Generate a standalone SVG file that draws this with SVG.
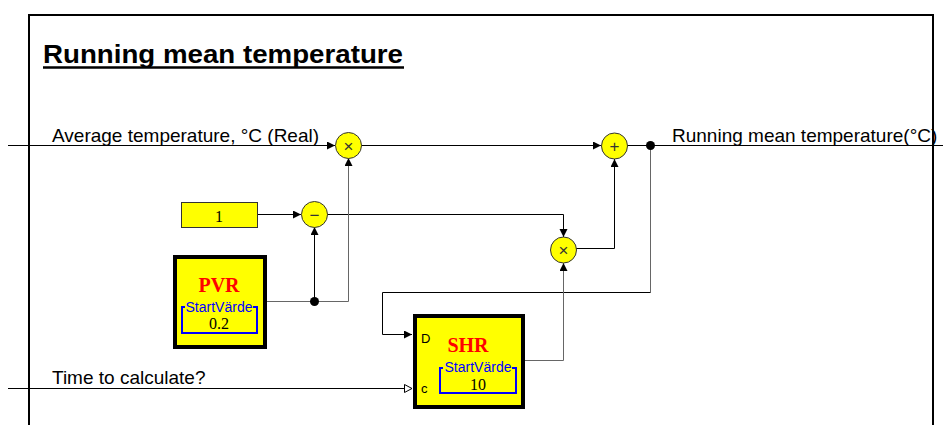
<svg xmlns="http://www.w3.org/2000/svg" width="943" height="425" viewBox="0 0 943 425">
<defs>
<marker id="af" markerUnits="userSpaceOnUse" markerWidth="9" markerHeight="9" refX="8" refY="4" orient="auto"><path d="M0,0 L8,4 L0,8 Z" fill="#000"/></marker>
<marker id="ao" markerUnits="userSpaceOnUse" markerWidth="10" markerHeight="10" refX="8" refY="4.5" orient="auto"><path d="M0.5,0.5 L8,4.5 L0.5,8.5 Z" fill="#fff" stroke="#000" stroke-width="1"/></marker>
</defs>
<style>
.frame{fill:none;stroke:#000;stroke-width:2}
.w{fill:none;stroke:#000;stroke-width:1}
.g{fill:none;stroke:#666;stroke-width:1}
.op{fill:#ff0;stroke:#333;stroke-width:1}
.sym{font-family:"Liberation Sans",Arial,sans-serif;font-size:17px;fill:#333;text-anchor:middle}
.lbl{font-family:"Liberation Sans",Arial,sans-serif;font-size:19px;fill:#000}
.blk{fill:#ff0;stroke:#000;stroke-width:4}
.name{font-family:"Liberation Serif","Times New Roman",serif;font-weight:bold;font-size:20px;fill:#f00;text-anchor:middle}
.sv{font-family:"Liberation Sans",Arial,sans-serif;font-size:14px;fill:#00f;text-anchor:middle}
.val{font-family:"Liberation Serif","Times New Roman",serif;font-size:16px;fill:#000;text-anchor:middle}
.br{fill:none;stroke:#00f;stroke-width:2}
.port{font-family:"Liberation Sans",Arial,sans-serif;font-size:13px;fill:#000}
.dot{fill:#000}
</style>
<rect width="943" height="425" fill="#fff"/>
<path class="frame" d="M29,425 V15 H933 V425"/>
<g id="title">
<text x="43" y="63" font-family="'Liberation Sans',Arial,sans-serif" font-weight="bold" font-size="26" textLength="360" lengthAdjust="spacingAndGlyphs">Running mean temperature</text>
<line x1="43" y1="67.5" x2="404" y2="67.5" stroke="#000" stroke-width="2.5"/>
</g>
<g id="connectors">
<path class="w" d="M8,145.5 H335" marker-end="url(#af)"/>
<path class="w" d="M361,145.5 H601" marker-end="url(#af)"/>
<path class="w" d="M627,145.5 H943"/>
<path class="w" d="M258,214.5 H301" marker-end="url(#af)"/>
<path class="w" d="M327,214.5 H563.5 V237" marker-end="url(#af)"/>
<path class="g" d="M267,301.5 H348.5 V158" marker-end="url(#af)"/>
<path class="w" d="M314.5,301.5 V227" marker-end="url(#af)"/>
<path class="w" d="M576,248.5 H614.5 V159" marker-end="url(#af)"/>
<path class="g" d="M650.5,145.5 V292.5"/>
<path class="w" d="M650.5,292.5 H382.5 V334.5 H412" marker-end="url(#af)"/>
<path class="g" d="M525,360.5 H563.5 V263" marker-end="url(#af)"/>
<path class="w" d="M8,388.5 H412" marker-end="url(#ao)"/>
<circle class="dot" cx="650.5" cy="145.5" r="4.5"/>
<circle class="dot" cx="314.5" cy="301.5" r="4.5"/>
</g>
<g id="lbl-in1"><text class="lbl" x="52" y="142">Average temperature, °C (Real)</text></g>
<g id="lbl-out"><text class="lbl" x="672" y="142">Running mean temperature(°C)</text></g>
<g id="lbl-in2"><text class="lbl" x="52" y="384">Time to calculate?</text></g>
<g id="mul1"><circle class="op" cx="348.5" cy="145.5" r="13"/><text class="sym" x="348.5" y="151.5">×</text></g>
<g id="add1"><circle class="op" cx="614.5" cy="146" r="13"/><text class="sym" x="614.5" y="152">+</text></g>
<g id="sub1"><circle class="op" cx="314.5" cy="214.5" r="13"/><text class="sym" x="314.5" y="220.5">−</text></g>
<g id="mul2"><circle class="op" cx="563.5" cy="250" r="13"/><text class="sym" x="563.5" y="256">×</text></g>
<g id="const1"><rect x="181.5" y="202.5" width="76" height="25" fill="#ff0" stroke="#333" stroke-width="1"/><text class="val" x="219" y="222">1</text></g>
<g id="pvr">
<rect class="blk" x="175" y="257" width="90" height="90"/>
<text class="name" x="219" y="292">PVR</text>
<path class="br" d="M185,307 H182 V333 H257 V307 H253"/>
<text class="sv" x="219" y="312">StartVärde</text>
<text class="val" x="219" y="329">0.2</text>
</g>
<g id="shr">
<rect class="blk" x="415" y="316" width="108" height="91"/>
<text class="port" x="421" y="343">D</text>
<text class="port" x="421" y="393">c</text>
<text class="name" x="468" y="352">SHR</text>
<path class="br" d="M443,368 H440 V393 H516 V368 H512"/>
<text class="sv" x="478" y="372">StartVärde</text>
<text class="val" x="478" y="390">10</text>
</g>
</svg>
